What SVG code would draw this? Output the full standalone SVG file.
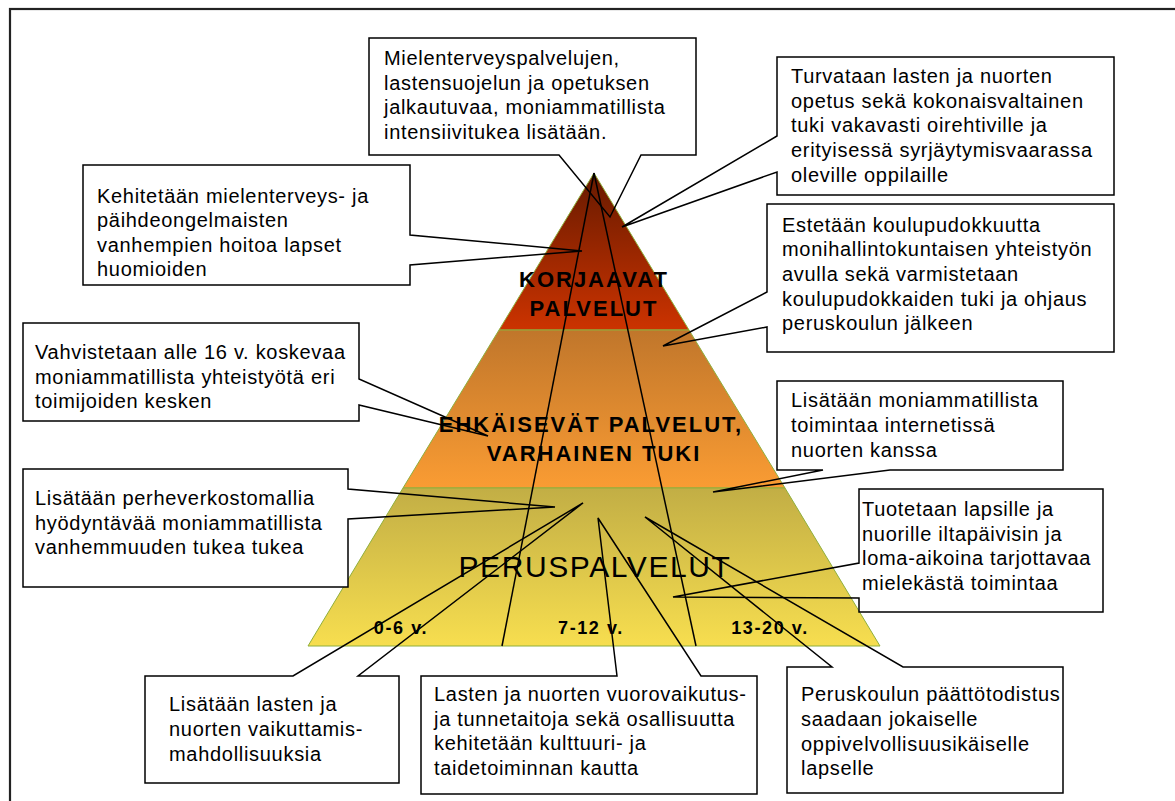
<svg xmlns="http://www.w3.org/2000/svg" width="1175" height="801" viewBox="0 0 1175 801">
<style>
.frame{fill:none;stroke:#222;stroke-width:2.2}
.band{stroke:#8FAF3C;stroke-width:1}
.box{fill:#fff;stroke:none}
.co{fill:none;stroke:#000;stroke-width:1.5;stroke-linejoin:miter}
.div{fill:none;stroke:#000;stroke-width:1.5}
.t{font-family:"Liberation Sans",Arial,sans-serif;font-size:20px;letter-spacing:0.7px;fill:#000}
.lb{font-family:"Liberation Sans",Arial,sans-serif;font-size:22px;font-weight:bold;letter-spacing:2px;fill:#000;text-anchor:middle}
.big{font-family:"Liberation Sans",Arial,sans-serif;font-size:30px;letter-spacing:1.6px;fill:#000;text-anchor:middle}
.age{font-family:"Liberation Sans",Arial,sans-serif;font-size:18px;font-weight:bold;letter-spacing:1.6px;fill:#000;text-anchor:middle}
</style>
<defs>
<linearGradient id="gTop" x1="0" y1="0" x2="0" y2="1"><stop offset="0" stop-color="#661A00"/><stop offset="1" stop-color="#CC3300"/></linearGradient>
<linearGradient id="gMid" x1="0" y1="0" x2="0" y2="1"><stop offset="0" stop-color="#C0762B"/><stop offset="1" stop-color="#FA9C33"/></linearGradient>
<linearGradient id="gBot" x1="0" y1="0" x2="0" y2="1"><stop offset="0" stop-color="#C2AE45"/><stop offset="1" stop-color="#F7DE4F"/></linearGradient>
</defs>
<rect width="1175" height="801" fill="#fff"/>
<rect class="frame" x="10" y="9" width="1180" height="800"/>

<g id="pyramid">
  <polygon class="band" fill="url(#gTop)" points="594,173 689,330 499,330"/>
  <polygon class="band" fill="url(#gMid)" points="499,330 689,330 785,488 403,488"/>
  <polygon class="band" fill="url(#gBot)" points="403,488 785,488 880,646 308,646"/>
  <text class="lb" x="594" y="287">KORJAAVAT</text>
  <text class="lb" x="594" y="316">PALVELUT</text>
  <text class="lb" x="591" y="432">EHKÄISEVÄT PALVELUT,</text>
  <text class="lb" x="594" y="461">VARHAINEN TUKI</text>
  <text class="big" x="595" y="577">PERUSPALVELUT</text>
  <text class="age" x="401" y="634">0-6 v.</text>
  <text class="age" x="591" y="634">7-12 v.</text>
  <text class="age" x="770" y="634">13-20 v.</text>
</g>

<g id="connectors">
  <line class="div" x1="594" y1="173" x2="502" y2="646"/>
  <line class="div" x1="594" y1="173" x2="696" y2="646"/>
</g>

<g id="callout-mielenterveys">
  <rect class="box" x="369" y="38" width="327" height="117"/>
  <path class="co" d="M369,38 H696 V155 H641 L610,217 L559,155 H369 Z"/>
  <text class="t" x="384" y="65">Mielenterveyspalvelujen,</text>
  <text class="t" x="384" y="90">lastensuojelun ja opetuksen</text>
  <text class="t" x="384" y="114">jalkautuvaa, moniammatillista</text>
  <text class="t" x="384" y="139">intensiivitukea lisätään.</text>
</g>

<g id="callout-kehitetaan">
  <rect class="box" x="83" y="165" width="327" height="120"/>
  <path class="co" d="M83,165 H410 V235 L582,251 L410,265 V285 H83 Z"/>
  <text class="t" x="97" y="203">Kehitetään mielenterveys- ja</text>
  <text class="t" x="97" y="227">päihdeongelmaisten</text>
  <text class="t" x="97" y="252">vanhempien hoitoa lapset</text>
  <text class="t" x="97" y="276">huomioiden</text>
</g>

<g id="callout-turvataan">
  <rect class="box" x="777" y="57" width="337" height="138"/>
  <path class="co" d="M777,57 H1114 V195 H777 V172 L622,227 L777,136 Z"/>
  <text class="t" x="791" y="83">Turvataan lasten ja nuorten</text>
  <text class="t" x="791" y="108">opetus sekä kokonaisvaltainen</text>
  <text class="t" x="791" y="132">tuki vakavasti oirehtiville ja</text>
  <text class="t" x="791" y="157">erityisessä syrjäytymisvaarassa</text>
  <text class="t" x="791" y="182">oleville oppilaille</text>
</g>

<g id="callout-estetaan">
  <rect class="box" x="767" y="204" width="347" height="148"/>
  <path class="co" d="M767,204 H1114 V352 H767 V327 L663,346 L767,292 Z"/>
  <text class="t" x="782" y="232">Estetään koulupudokkuutta</text>
  <text class="t" x="782" y="256">monihallintokuntaisen yhteistyön</text>
  <text class="t" x="782" y="281">avulla sekä varmistetaan</text>
  <text class="t" x="782" y="306">koulupudokkaiden tuki ja ohjaus</text>
  <text class="t" x="782" y="330">peruskoulun jälkeen</text>
</g>

<g id="callout-vahvistetaan">
  <rect class="box" x="23" y="323" width="336" height="98"/>
  <path class="co" d="M23,323 H359 V379 L488,436 L359,405 V421 H23 Z"/>
  <text class="t" x="35" y="359">Vahvistetaan alle 16 v. koskevaa</text>
  <text class="t" x="35" y="384">moniammatillista yhteistyötä eri</text>
  <text class="t" x="35" y="408">toimijoiden kesken</text>
</g>

<g id="callout-internet">
  <rect class="box" x="777" y="381" width="286" height="89"/>
  <path class="co" d="M777,381 H1063 V470 H890 L713,492 L823,470 H777 Z"/>
  <text class="t" x="791" y="407">Lisätään moniammatillista</text>
  <text class="t" x="791" y="432">toimintaa internetissä</text>
  <text class="t" x="791" y="457">nuorten kanssa</text>
</g>

<g id="callout-perheverkosto">
  <rect class="box" x="23" y="469" width="325" height="118"/>
  <path class="co" d="M23,469 H348 V489 L555,507 L348,519 V587 H23 Z"/>
  <text class="t" x="35" y="505">Lisätään perheverkostomallia</text>
  <text class="t" x="35" y="530">hyödyntävää moniammatillista</text>
  <text class="t" x="35" y="554">vanhemmuuden tukea tukea</text>
</g>

<g id="callout-tuotetaan">
  <rect class="box" x="859" y="489" width="244" height="123"/>
  <path class="co" d="M859,489 H1103 V612 H859 V598 L673,597 L859,563 Z"/>
  <text class="t" x="862" y="516">Tuotetaan lapsille ja</text>
  <text class="t" x="862" y="541">nuorille iltapäivisin ja</text>
  <text class="t" x="862" y="565">loma-aikoina tarjottavaa</text>
  <text class="t" x="862" y="590">mielekästä toimintaa</text>
</g>

<g id="callout-vaikuttamis">
  <rect class="box" x="145" y="676" width="254" height="107"/>
  <path class="co" d="M145,676 H293 L583,503 L358,676 H399 V783 H145 Z"/>
  <text class="t" x="169" y="711">Lisätään lasten ja</text>
  <text class="t" x="169" y="736">nuorten vaikuttamis-</text>
  <text class="t" x="169" y="761">mahdollisuuksia</text>
</g>

<g id="callout-vuorovaikutus">
  <rect class="box" x="421" y="676" width="336" height="118"/>
  <path class="co" d="M421,676 H617 L598,518 L701,676 H757 V794 H421 Z"/>
  <text class="t" x="434" y="701">Lasten ja nuorten vuorovaikutus-</text>
  <text class="t" x="434" y="726">ja tunnetaitoja sekä osallisuutta</text>
  <text class="t" x="434" y="750">kehitetään kulttuuri- ja</text>
  <text class="t" x="434" y="775">taidetoiminnan kautta</text>
</g>

<g id="callout-paattotodistus">
  <rect class="box" x="787" y="667" width="276" height="126"/>
  <path class="co" d="M787,667 H832 L645,517 L903,667 H1063 V793 H787 Z"/>
  <text class="t" x="801" y="701">Peruskoulun päättötodistus</text>
  <text class="t" x="801" y="726">saadaan jokaiselle</text>
  <text class="t" x="801" y="751">oppivelvollisuusikäiselle</text>
  <text class="t" x="801" y="775">lapselle</text>
</g>
</svg>
